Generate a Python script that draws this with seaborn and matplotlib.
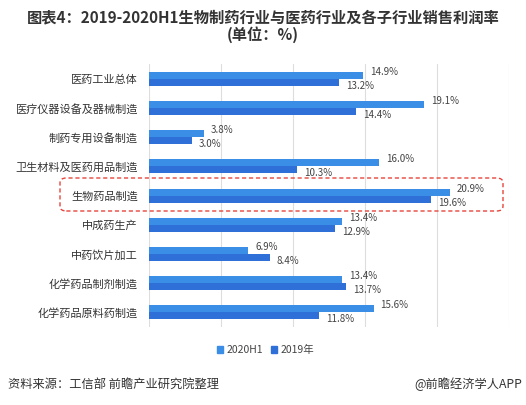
import pandas as pd
import matplotlib.pyplot as plt
import seaborn as sns
from matplotlib.patches import FancyBboxPatch

# 数据
categories = ['医药工业总体', '医疗仪器设备及器械制造', '制药专用设备制造', '卫生材料及医药用品制造',
              '生物药品制造', '中成药生产', '中药饮片加工', '化学药品制剂制造', '化学药品原料药制造']
vals_2020h1 = [14.9, 19.1, 3.8, 16.0, 20.9, 13.4, 6.9, 13.4, 15.6]
vals_2019 = [13.2, 14.4, 3.0, 10.3, 19.6, 12.9, 8.4, 13.7, 11.8]
series = ['2020H1', '2019年']
colors = ['#3A8EE6', '#2F6FD8']

df = pd.DataFrame({
    'cat': categories * 2,
    'val': vals_2020h1 + vals_2019,
    'series': [series[0]] * len(categories) + [series[1]] * len(categories),
})

sns.set_theme(style='white')
plt.rcParams['font.family'] = ['Noto Sans CJK SC', 'DejaVu Sans']

fig = plt.figure(figsize=(5.26, 4.05), dpi=100)
ax = fig.add_axes([0.2833, 0.1926, 0.684, 0.649])

sns.barplot(data=df, x='val', y='cat', hue='series', hue_order=series, order=categories,
            palette=colors, orient='h', width=0.48, ax=ax, legend=False, saturation=1,
            linewidth=0)

ax.set_xlim(0, 25)
ax.set_xticks([0, 5, 10, 15, 20, 25])
ax.set_xticklabels([])
ax.xaxis.grid(True, color='#DDDDDD', lw=0.8)
ax.set_axisbelow(True)
ax.tick_params(axis='both', length=0)
ax.tick_params(axis='y', labelsize=8, labelcolor='#333333', pad=8)
ax.set_xlabel('')
ax.set_ylabel('')
for s in ax.spines.values():
    s.set_visible(False)

# 数值标签（上面一组略上移，下面一组略下移）
for cont, dy in zip(ax.containers, [2.5, -2.5]):
    for bar in cont:
        w = bar.get_width()
        yc = bar.get_y() + bar.get_height() / 2
        ax.annotate(f'{w:.1f}%', (w, yc), xytext=(5, dy), textcoords='offset points',
                    va='center', ha='left', fontsize=7, color='#444444')

# 图例
handles = [plt.Rectangle((0, 0), 1, 1, color=c) for c in colors]
fig.legend(handles, series, loc='center', bbox_to_anchor=(0.505, 0.135), ncol=2, frameon=False,
           fontsize=7.5, handlelength=0.6, handleheight=0.6, handletextpad=0.3, columnspacing=0.8,
           labelcolor='#444444')

# 标题
fig.text(0.5, 0.957, '图表4：2019-2020H1生物制药行业与医药行业及各子行业销售利润率', ha='center', va='center',
         fontsize=11, fontweight='bold', color='#333333')
fig.text(0.5, 0.915, '(单位：%)', ha='center', va='center', fontsize=11, fontweight='bold', color='#333333')

# 来源
fig.text(0.015, 0.052, '资料来源：工信部 前瞻产业研究院整理', ha='left', va='center', fontsize=8.8, color='#333333')
fig.text(0.993, 0.052, '@前瞻经济学人APP', ha='right', va='center', fontsize=8.8, color='#333333')

# 红色虚线框
box = FancyBboxPatch((60 / 526, 1 - 211 / 405), 443 / 526, 33 / 405,
                     boxstyle='round,pad=0,rounding_size=0.012', transform=fig.transFigure,
                     fill=False, edgecolor='#E8453C', linestyle=(0, (3, 2)), lw=1)
fig.patches.append(box)

fig.savefig('out.png', dpi=100)
